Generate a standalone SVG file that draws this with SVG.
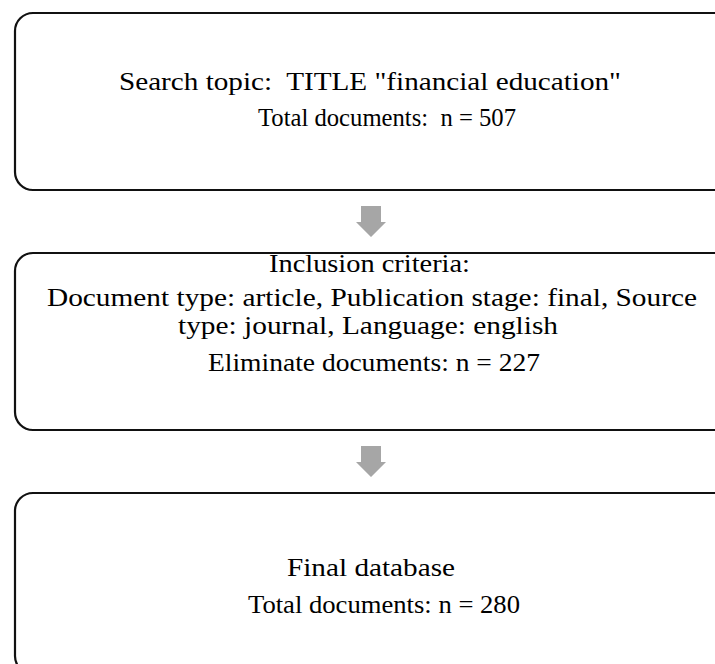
<svg xmlns="http://www.w3.org/2000/svg" width="715" height="664" viewBox="0 0 715 664">
<style>
.box{fill:#fff;stroke:#111;stroke-width:2.2}
.t{font-family:"Liberation Serif","Times New Roman",serif;font-size:26px;fill:#000}
.arr{fill:#a6a6a6}
</style>
<rect width="715" height="664" fill="#fff"/>
<g id="connectors">
<polygon class="arr" points="361,206 381,206 381,222 386,222 371,237 356,222 361,222"/>
<polygon class="arr" points="361,446 381,446 381,462 386,462 371,477 356,462 361,462"/>
</g>
<g id="node1">
<rect class="box" x="15" y="13" width="718" height="177" rx="18"/>
<text class="t" x="119" y="90" textLength="502" lengthAdjust="spacingAndGlyphs" xml:space="preserve">Search topic:  TITLE "financial education"</text>
<text class="t" x="258" y="126" textLength="258" lengthAdjust="spacingAndGlyphs" xml:space="preserve">Total documents:  n = 507</text>
</g>
<g id="node2">
<rect class="box" x="15" y="253" width="718" height="177" rx="18"/>
<text class="t" x="269" y="272" textLength="201" lengthAdjust="spacingAndGlyphs">Inclusion criteria:</text>
<text class="t" x="47" y="306" textLength="650" lengthAdjust="spacingAndGlyphs">Document type: article, Publication stage: final, Source</text>
<text class="t" x="178" y="334" textLength="380" lengthAdjust="spacingAndGlyphs">type: journal, Language: english</text>
<text class="t" x="208" y="371" textLength="332" lengthAdjust="spacingAndGlyphs">Eliminate documents: n = 227</text>
</g>
<g id="node3">
<rect class="box" x="15" y="493" width="718" height="181" rx="18"/>
<text class="t" x="287" y="576" textLength="168" lengthAdjust="spacingAndGlyphs">Final database</text>
<text class="t" x="248" y="613" textLength="272" lengthAdjust="spacingAndGlyphs">Total documents: n = 280</text>
</g>
</svg>
